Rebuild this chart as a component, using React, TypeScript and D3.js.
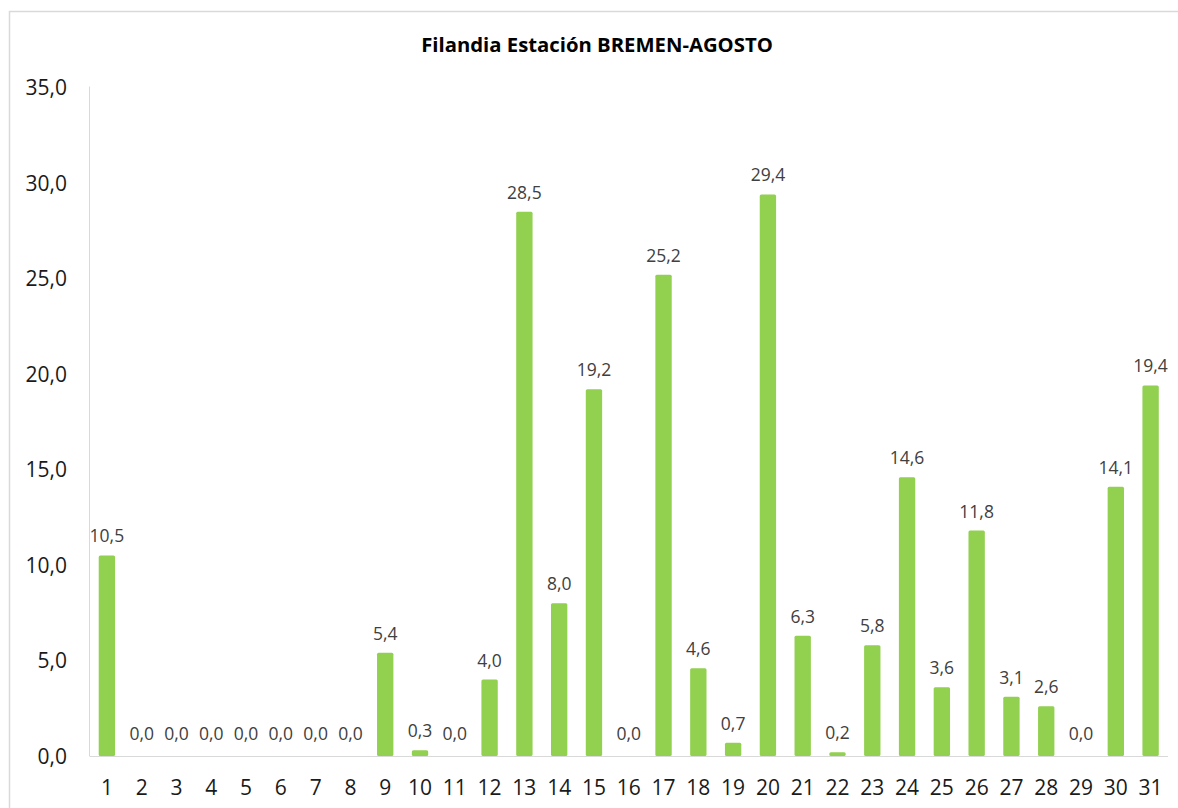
import React from "react";
import * as d3 from "d3";

const days: string[] = Array.from({ length: 31 }, (_, i) => String(i + 1));
const rain: number[] = [10.5, 0, 0, 0, 0, 0, 0, 0, 5.4, 0.3, 0, 4.0, 28.5, 8.0, 19.2, 0, 25.2, 4.6, 0.7, 29.4, 6.3, 0.2, 5.8, 14.6, 3.6, 11.8, 3.1, 2.6, 0, 14.1, 19.4];
const yTicks: number[] = [0, 5, 10, 15, 20, 25, 30, 35];
const title = "Filandia Estación BREMEN-AGOSTO";

const W = 1178, H = 808;
const left = 89.5, right = 1168, top = 87.5, bottom = 756;
const font = "'Open Sans', Lato, sans-serif";
const fmt = (v: number) => v.toFixed(1).replace(".", ",");

export default function App() {
  const x = d3.scaleBand<string>().domain(days).range([left, right]).paddingInner(0.53).paddingOuter(0.265);
  const y = d3.scaleLinear().domain([0, 35]).range([bottom, top]);
  return (
    <svg width={W} height={H} style={{ position: "absolute", left: 0, top: 0, background: "#fff" }} fontFamily={font}>
      <rect x={9.5} y={11.5} width={1180} height={820} fill="#fff" stroke="#d9d9d9" strokeWidth={1.5} />
      <text x={597} y={52} textAnchor="middle" fontSize={20.3} fontWeight="bold" fill="#000">{title}</text>
      <line x1={left} x2={left} y1={top - 1} y2={bottom} stroke="#d9d9d9" strokeWidth={1} />
      <line x1={left} x2={right} y1={bottom + 0.5} y2={bottom + 0.5} stroke="#d9d9d9" strokeWidth={1} />
      {yTicks.map((t) => (
        <text key={t} x={67} y={y(t) + 7.5} textAnchor="end" fontSize={21} fill="#1a1a1a">{fmt(t)}</text>
      ))}
      {days.map((d, i) => {
        const bx = x(d)!;
        const bw = x.bandwidth();
        const v = rain[i];
        const cx = bx + bw / 2;
        return (
          <g key={d}>
            {v > 0 && (
              <rect x={bx} y={y(v)} width={bw} height={bottom - y(v)} fill="#92d050" rx={1.5} />
            )}
            <text x={cx} y={y(v) - (v > 0 ? 13 : 16)} textAnchor="middle" fontSize={17.5} fill="#404040">{fmt(v)}</text>
            <text x={cx} y={795} textAnchor="middle" fontSize={21} fill="#1a1a1a">{d}</text>
          </g>
        );
      })}
    </svg>
  );
}
